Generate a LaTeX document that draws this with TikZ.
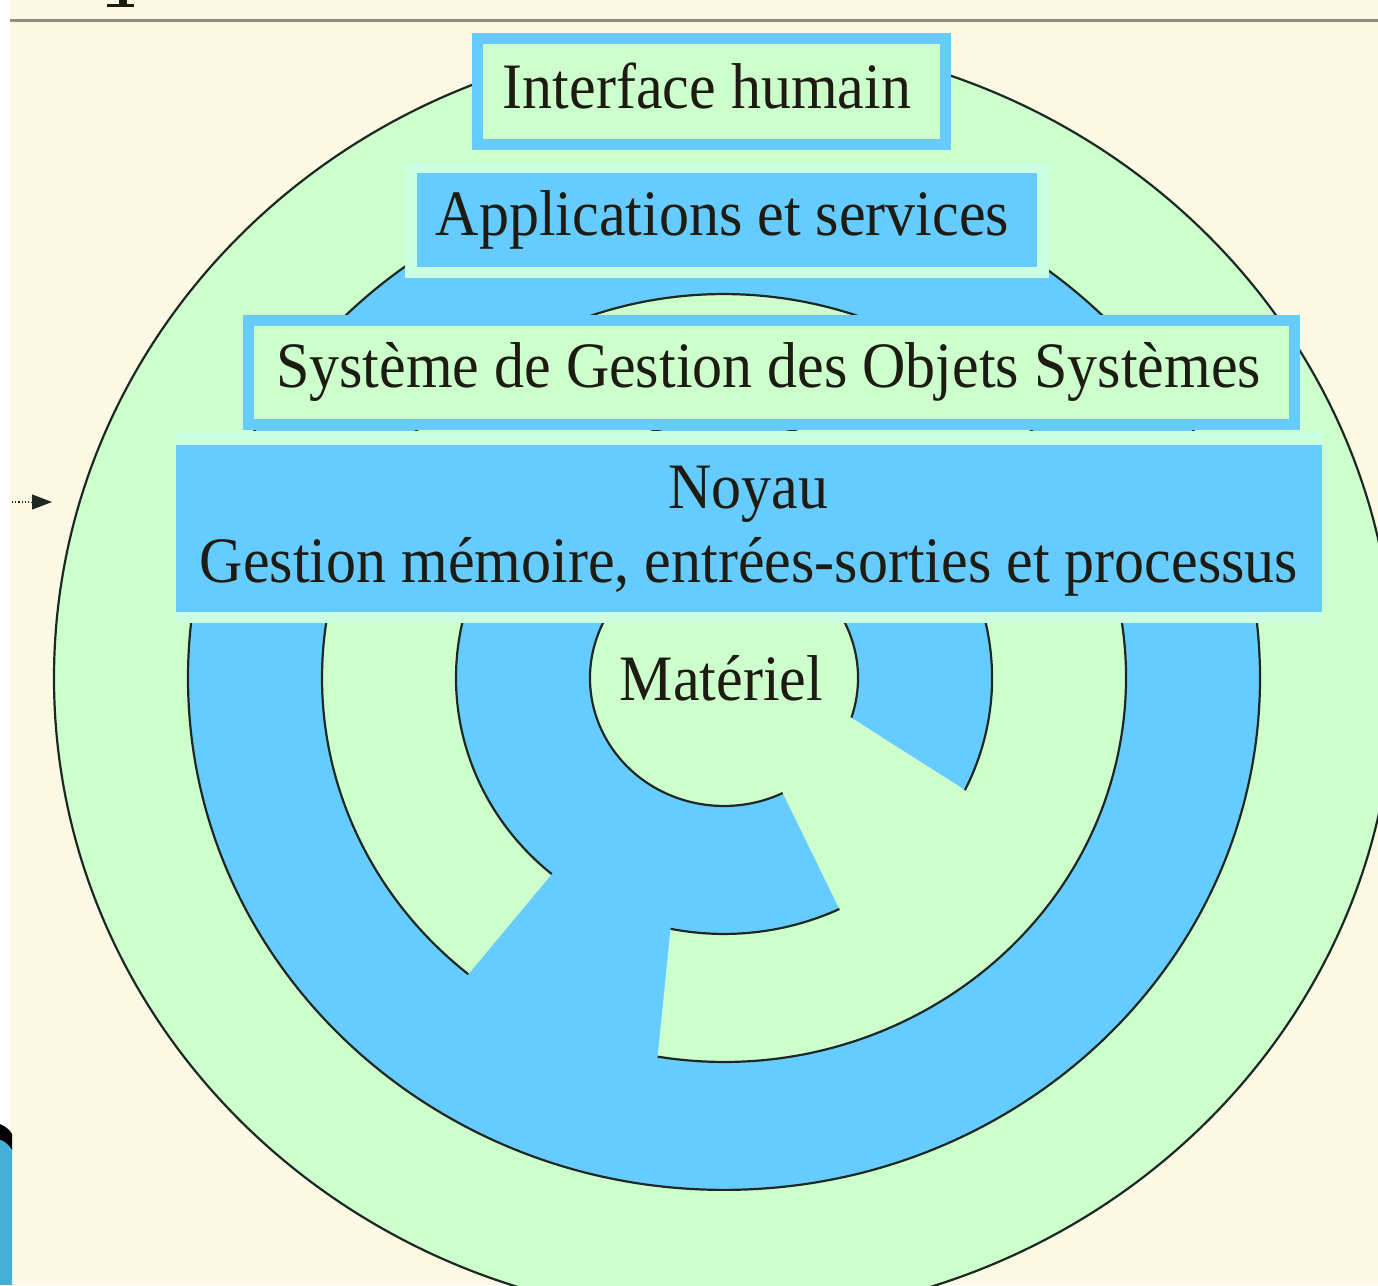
\documentclass[tikz,border=0pt]{standalone}
\usepackage{fontspec}
\setmainfont{Liberation Serif}
\usetikzlibrary{arrows.meta}
\definecolor{bgcream}{RGB}{251,248,228}
\definecolor{ringblue}{RGB}{102,204,255}
\definecolor{ringgreen}{RGB}{204,255,204}
\definecolor{halo}{RGB}{204,255,226}
\definecolor{inkline}{RGB}{30,40,35}
\definecolor{inktext}{RGB}{30,28,18}
\definecolor{topline}{RGB}{150,140,125}
\definecolor{decoblue}{RGB}{70,175,215}
\tikzset{
  ringline/.style={draw=inkline, line width=2.2pt},
  lbl/.style={font=\fontsize{60}{72}\selectfont, text=inktext, inner sep=0pt, anchor=base, yscale=1.08, transform shape},
  bluebox/.style={fill=ringblue, draw=none, inner sep=0pt},
  framebox/.style={fill=ringgreen, draw=ringblue, line width=11pt, inner sep=0pt},
  halobox/.style={fill=halo, draw=none, inner sep=0pt},
}
\begin{document}
\begin{tikzpicture}[x=1pt,y=1pt]
\useasboundingbox (0,0) rectangle (1378,-1285);
\fill[bgcream] (0,0) rectangle (1378,-1285);
\fill[white] (0,0) rectangle (10,-1128);
% top rule and title fragment
\coordinate (tlA) at (10,-20);
\coordinate (tlB) at (1378,-20);
\draw[topline, line width=3pt] (tlA) -- (tlB);
\fill[inktext] (119,0) rectangle (127,-6);
\fill[inktext] (107,-4) rectangle (134,-7);
% bottom-left decoration
\fill[black] (0,-1124) .. controls (5,-1126) and (10,-1130) .. (12,-1134) -- (12,-1150) .. controls (8,-1144) and (4,-1141) .. (0,-1140) -- cycle;
\fill[decoblue] (0,-1140) .. controls (4,-1141) and (8,-1144) .. (12,-1150) -- (12,-1285) -- (0,-1285) -- cycle;
% dotted arrow
\coordinate (arrS) at (12,-502);
\coordinate (arrM) at (31,-502);
\coordinate (arrE) at (52,-502);
\draw[inkline, line width=1.2pt, dotted] (arrS) -- (arrM);
\draw[inkline, line width=1pt, -{Triangle[length=20pt,width=15pt]}] (arrM) -- (arrE);
% rings
\begin{scope}[shift={(724,-678)}, yscale=0.955]
  \filldraw[fill=ringgreen, ringline] (0,0) circle[radius=670];
  \filldraw[fill=ringblue, ringline] (0,0) circle[radius=536];
  \fill[ringgreen] (258.5:268) -- (260.5:402) arc[start angle=260.5, end angle=590.5, radius=402]
     -- (590:268) arc[start angle=590, end angle=258.5, radius=268] -- cycle;
  \fill[ringgreen] (0,0) circle[radius=134];
  \fill[ringgreen] (-18:133) -- (-26:269) arc[start angle=-26, end angle=-64.5, radius=269]
     -- (-64:133) arc[start angle=-64, end angle=-18, radius=133] -- cycle;
  \draw[ringline] (260.5:402) arc[start angle=260.5, end angle=590.5, radius=402];
  \draw[ringline] (-26:268) arc[start angle=-26, end angle=230, radius=268];
  \draw[ringline] (258.5:268) arc[start angle=258.5, end angle=295.5, radius=268];
  \draw[ringline] (-18:134) arc[start angle=-18, end angle=296, radius=134];
\end{scope}
% boxes
\node[framebox, minimum width=468pt, minimum height=106pt] (bIH) at (711.5,-91.5) {};
\node[halobox, minimum width=644pt, minimum height=115pt] (hAS) at (727,-220.5) {};
\node[bluebox, minimum width=620pt, minimum height=94pt] (bAS) at (727,-220) {};
\node[halobox, minimum width=1146pt, minimum height=192pt] (hNY) at (749,-527) {};
\node[framebox, minimum width=1046pt, minimum height=104pt] (bSG) at (771.5,-372.5) {};
\node[bluebox, minimum width=1146pt, minimum height=167pt] (bNY) at (749,-528.5) {};
% labels
\node[lbl] (tIH) at (707,-108) {Interface humain};
\node[lbl] (tAS) at (722.5,-235) {Applications et services};
\node[lbl] (tSG) at (768.5,-387) {Système de Gestion des Objets Systèmes};
\node[lbl] (tNY) at (748.5,-508) {Noyau};
\node[lbl] (tGM) at (749,-582) {Gestion mémoire, entrées-sorties et processus};
\node[lbl] (tMT) at (721.5,-700) {Matériel};
\end{tikzpicture}
\end{document}
